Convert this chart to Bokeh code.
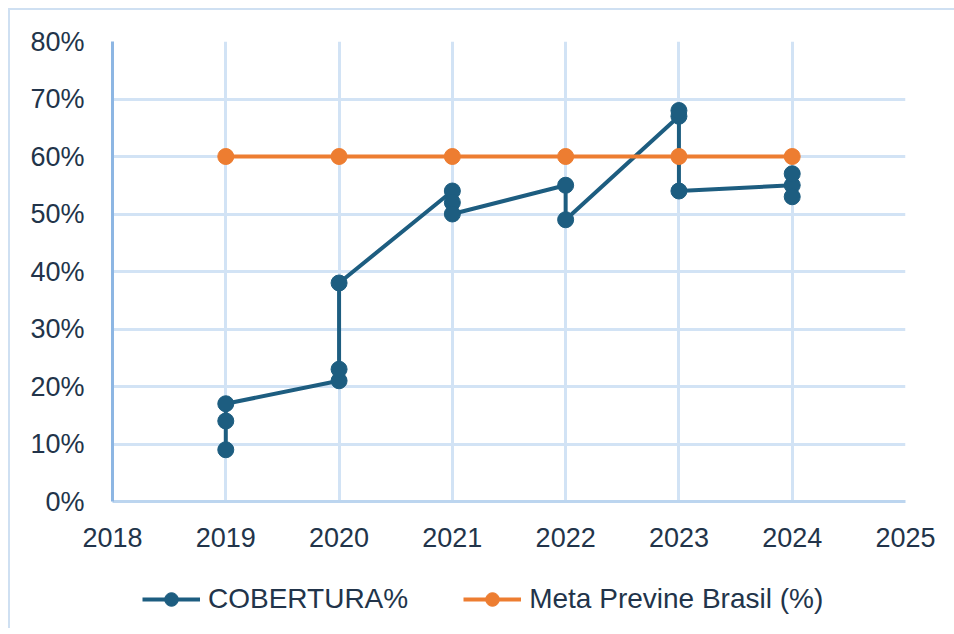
from bokeh.plotting import figure
from bokeh.layouts import column
from bokeh.models import (ColumnDataSource, Legend, LegendItem, FixedTicker,
                          NumeralTickFormatter, Range1d)
from bokeh.embed import file_html
from bokeh.resources import INLINE

# ---- data ----
cob_years = [2019, 2019, 2019, 2020, 2020, 2020, 2021, 2021, 2021,
             2022, 2022, 2023, 2023, 2023, 2024, 2024, 2024]
cob_pct = [9, 14, 17, 21, 23, 38, 54, 52, 50,
           55, 49, 67, 68, 54, 55, 57, 53]
meta_years = [2019, 2020, 2021, 2022, 2023, 2024]
meta_pct = [60, 60, 60, 60, 60, 60]
x_ticks = [2018, 2019, 2020, 2021, 2022, 2023, 2024, 2025]
y_ticks = [0, 10, 20, 30, 40, 50, 60, 70, 80]
series_names = ["COBERTURA%", "Meta Previne Brasil (%)"]

BLUE = "#1D5D80"
ORANGE = "#ED7D31"
GRID = "#D2E3F5"
TEXT = "#22344A"
FONT = "Liberation Sans"
BORDER = "2px solid #CFE0F2"

src_c = ColumnDataSource(dict(x=cob_years, y=[v / 100 for v in cob_pct]))
src_m = ColumnDataSource(dict(x=meta_years, y=[v / 100 for v in meta_pct]))

p = figure(frame_width=791, frame_height=458, output_backend="svg", toolbar_location=None,
           x_range=Range1d(2018, 2025), y_range=Range1d(0, 0.8),
           min_border_left=102, min_border_top=31, min_border_right=51,
           min_border_bottom=71)
p.styles = {"border-left": BORDER, "border-top": BORDER,
            "margin-left": "8px", "margin-top": "8px"}
p.outline_line_color = None
p.background_fill_color = "white"
p.border_fill_color = "white"

p.line("x", "y", source=src_c, line_color=BLUE, line_width=4)
p.scatter("x", "y", source=src_c, size=16, fill_color=BLUE, line_color=BLUE)
p.line("x", "y", source=src_m, line_color=ORANGE, line_width=4)
p.scatter("x", "y", source=src_m, size=16, fill_color=ORANGE, line_color=ORANGE)

# axes
p.xaxis.ticker = FixedTicker(ticks=x_ticks)
p.yaxis.ticker = FixedTicker(ticks=[v / 100 for v in y_ticks])
p.yaxis.formatter = NumeralTickFormatter(format="0%")
for ax in (p.xaxis[0], p.yaxis[0]):
    ax.major_tick_line_color = None
    ax.minor_tick_line_color = None
    ax.major_tick_out = 0
    ax.major_tick_in = 0
    ax.major_label_text_font = FONT
    ax.major_label_text_font_size = "27px"
    ax.major_label_text_color = TEXT
ax = p.yaxis[0]
ax.axis_line_color = "#8DB6E3"
ax.axis_line_width = 3
ax.major_label_standoff = 28
p.xaxis[0].axis_line_color = "#BCD5EF"
p.xaxis[0].axis_line_width = 3
p.xaxis[0].major_label_standoff = 26

p.xgrid.ticker = FixedTicker(ticks=x_ticks)
p.ygrid.ticker = FixedTicker(ticks=[v / 100 for v in y_ticks])
p.xgrid.grid_line_color = GRID
p.ygrid.grid_line_color = GRID
p.xgrid.grid_line_width = 3
p.ygrid.grid_line_width = 3

# ---- legend strip below the chart (series drawn out of view, only legend shows) ----
lg = figure(width=944, height=58, output_backend="svg", toolbar_location=None,
            x_range=Range1d(0, 1), y_range=Range1d(0, 1),
            x_axis_type=None, y_axis_type=None, min_border=0)
lg.styles = {"border-left": BORDER, "margin-left": "8px"}
lg.outline_line_color = None
lg.xgrid.visible = False
lg.ygrid.visible = False
r1 = [lg.line("x", "y", source=src_c, line_color=BLUE, line_width=4),
      lg.scatter("x", "y", source=src_c, size=16, fill_color=BLUE, line_color=BLUE)]
r2 = [lg.line("x", "y", source=src_m, line_color=ORANGE, line_width=4),
      lg.scatter("x", "y", source=src_m, size=16, fill_color=ORANGE, line_color=ORANGE)]
legend = Legend(items=[LegendItem(label=series_names[0], renderers=r1),
                       LegendItem(label=series_names[1], renderers=r2)],
                orientation="horizontal", location=(30, 12))
legend.label_text_font = FONT
legend.label_text_font_size = "28px"
legend.label_text_color = TEXT
legend.border_line_color = None
legend.background_fill_alpha = 0
legend.glyph_width = 58
legend.glyph_height = 34
legend.spacing = 55
legend.label_standoff = 8
legend.padding = 0
legend.margin = 0
lg.add_layout(legend)

page = column(p, lg, spacing=0)
open("out.html", "w").write(file_html(page, INLINE))
